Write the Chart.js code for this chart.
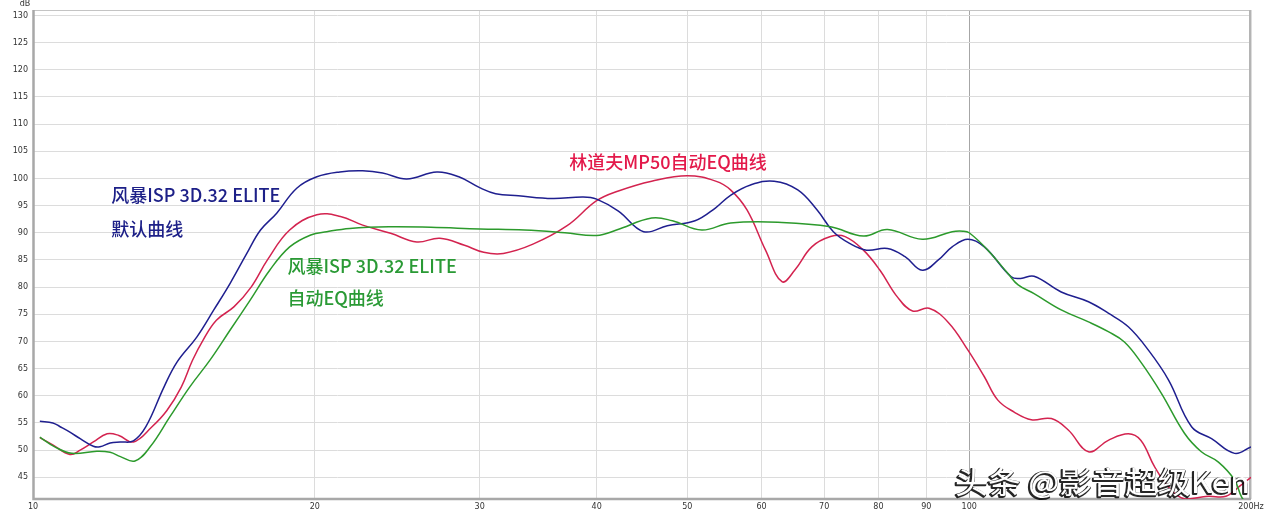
<!DOCTYPE html>
<html><head><meta charset="utf-8">
<script src="https://cdn.jsdelivr.net/npm/chart.js@4/dist/chart.umd.min.js"></script>
<style>html,body{margin:0;padding:0;background:#fff;}#wrap{width:1268px;height:514px;}</style>
</head><body><div id="wrap"><canvas id="c" width="1268" height="514"></canvas></div>
<script>
const xTicks = [10,20,30,40,50,60,70,80,90,100,200];
const yTicks = [45,50,55,60,65,70,75,80,85,90,95,100,105,110,115,120,125,130];

const blueFreq = [10.17,10.5,10.69,10.95,11.23,11.6,11.79,12.09,12.39,12.8,13.2,13.8,14.25,14.96,15.6,16.24,16.92,17.5,18.21,19.13,20.1,21.27,22.5,23.63,25.07,27.0,28.5,30,31.2,33,35.9,38.7,40,42.2,44.9,47.6,50.95,53.6,55.6,58.4,61.9,65.6,68.8,71.6,74.6,77.7,81.8,85.4,89.1,92.7,95.9,99.7,103.8,110.9,113.5,117.3,125.4,134.1,140.8,147.9,155.4,163.3,172.8,181.5,192.1,200];
const blueDb   = [55.3,55.0,54.3,53.3,52.1,50.7,50.6,51.3,51.5,51.7,54.3,61.6,66.2,70.8,75.8,80.7,86.2,90.5,93.6,98.2,100.3,101.2,101.4,101.0,99.9,101.2,100.3,98.3,97.2,96.8,96.3,96.6,96.2,94.0,90.2,91.3,92.2,94.6,96.9,98.8,99.5,97.9,94.2,90.2,88.0,86.8,87.1,85.6,83.1,85.0,87.4,88.8,87.4,81.9,81.6,82.0,79.1,77.3,75.2,72.7,68.4,62.9,54.3,52.1,49.4,50.6];

const redFreq = [10.17,10.51,10.95,11.23,11.6,12.0,12.35,12.8,13.4,13.9,14.4,14.8,15.2,15.7,16.4,17.1,17.8,18.8,20.1,21.3,22.5,24.1,25.7,27.2,28.9,30.3,31.8,34.2,37.2,40,42.2,45.8,50,53.6,55.6,57.9,60.6,63.1,65.1,67.9,71.1,73.7,77.1,80.3,83.8,87,90.6,95,99.7,103.8,107.3,111.7,116.5,122.4,127.6,134.1,140.8,147.9,152.5,157.8,163.3,170,180,188,195,200];
const redDb   = [52.3,50.9,49.2,50.0,51.5,53.0,52.7,51.5,54.3,57.3,61.6,66.5,70.3,73.9,76.4,80.0,85.0,90.5,93.3,93.0,91.4,89.9,88.3,89.0,87.7,86.4,86.2,87.9,91.3,95.9,97.7,99.5,100.5,99.5,97.9,94.2,86.8,81.0,83.1,87.4,89.3,89.3,86.8,83.1,78.2,75.6,76.1,73.5,68.4,63.5,59.2,57.0,55.6,55.8,53.7,49.7,51.8,53.0,51.8,46.9,43.2,41.0,41.5,41.5,43.5,45.0];

const greenFreq = [10.17,10.55,11.0,11.7,12.09,12.4,12.85,13.34,14.0,14.7,15.46,16.24,17.06,17.9,18.8,19.8,20.6,21.8,24.0,26.6,30,33.5,37,40,42,45.8,48.2,51.8,55.6,63.1,71.1,77.1,81.8,89.1,95.9,98.5,100,104.7,110,112.8,117.3,125.4,134.1,140.8,146.5,152.8,160.5,169.8,177,184.6,192.1,195.4,200];
const greenDb   = [52.4,50.6,49.4,49.8,49.6,48.8,48.0,50.6,56.1,61.6,66.6,72.1,77.6,83.1,87.4,89.6,90.2,90.8,91.1,91.0,90.7,90.5,90.0,89.5,90.5,92.7,92.2,90.5,91.8,91.9,91.1,89.4,90.6,88.8,90.2,90.3,90.0,86.8,82.5,80.4,78.8,75.8,73.6,71.8,69.9,66.0,60.4,53.1,49.7,47.8,44.5,41.4,39.0];

const labels = [
  {text:'风暴ISP 3D.32 ELITE', f:12.12, db:96.9, color:'#1d2088'},
  {text:'默认曲线', f:12.12, db:90.7, color:'#1d2088'},
  {text:'风暴ISP 3D.32 ELITE', f:18.7, db:83.9, color:'#2a9a35'},
  {text:'自动EQ曲线', f:18.7, db:78.0, color:'#2a9a35'},
  {text:'林道夫MP50自动EQ曲线', f:37.4, db:103.0, color:'#e3194a'}
];
const watermark = '头条 @影音超级Ken';

const toPts = (fs, ds) => fs.map((f, i) => ({x: f, y: ds[i]}));

const overlay = {
  id: 'overlay',
  beforeDatasetsDraw(chart) {
    const {ctx, chartArea: a} = chart;
    ctx.save();
    ctx.strokeStyle = '#c4c4c4'; ctx.lineWidth = 1;
    ctx.strokeRect(a.left + 0.5, a.top + 0.5, a.right - a.left - 1, a.bottom - a.top - 1);
    ctx.strokeStyle = '#b4b4b4'; ctx.lineWidth = 2;
    ctx.beginPath(); ctx.moveTo(a.right - 1, a.top); ctx.lineTo(a.right - 1, a.bottom); ctx.stroke();
    ctx.strokeStyle = '#a8a8a8'; ctx.lineWidth = 2.5;
    ctx.beginPath(); ctx.moveTo(a.left + 0.5, a.top); ctx.lineTo(a.left + 0.5, a.bottom); ctx.lineTo(a.right, a.bottom); ctx.stroke();
    ctx.restore();
  },
  afterDraw(chart) {
    const {ctx, scales: {x, y}} = chart;
    ctx.save();
    ctx.font = '8px "DejaVu Sans"'; ctx.fillStyle = '#333'; ctx.textAlign = 'center'; ctx.textBaseline = 'middle';
    ctx.fillText('dB', 25, 4);
    ctx.font = '500 18px "Noto Sans CJK SC"'; ctx.textAlign = 'left';
    labels.forEach(l => { ctx.fillStyle = l.color; ctx.fillText(l.text, x.getPixelForValue(l.f), y.getPixelForValue(l.db)); });
    ctx.font = '30px "Noto Sans CJK SC"';
    const w = ctx.measureText(watermark).width;
    const sx = 295 / w;
    ctx.translate(955, 482); ctx.scale(sx, 1);
    ctx.lineJoin = 'round';
    ctx.strokeStyle = 'rgba(0,0,0,0.85)'; ctx.lineWidth = 2.2;
    ctx.strokeText(watermark, -0.8, 0.8);
    ctx.fillStyle = '#ffffff';
    ctx.fillText(watermark, 0, 0);
    ctx.restore();
  }
};

new Chart(document.getElementById('c'), {
  type: 'line',
  data: {
    datasets: [
      {data: toPts(greenFreq, greenDb), borderColor: '#2c9a2c'},
      {data: toPts(blueFreq, blueDb), borderColor: '#1f1f8f'},
      {data: toPts(redFreq, redDb), borderColor: '#d3234f'}
    ].map(d => Object.assign(d, {borderWidth: 1.5, pointRadius: 0, tension: 0.4, fill: false}))
  },
  options: {
    responsive: false, animation: false, devicePixelRatio: 1,
    layout: {padding: {top: 10, right: 17, left: 0, bottom: 0}},
    plugins: {legend: {display: false}, tooltip: {enabled: false}},
    scales: {
      x: {
        type: 'logarithmic', min: 10, max: 200,
        afterBuildTicks: ax => { ax.ticks = xTicks.map(v => ({value: v})); },
        afterFit: ax => { ax.height = 15; },
        border: {display: false},
        grid: {drawTicks: false, color: c => (c.tick && c.tick.value === 100) ? '#a6a6a6' : '#dcdcdc', lineWidth: 1},
        ticks: {padding: 3, maxRotation: 0, autoSkip: false, color: '#333', font: {family: 'DejaVu Sans', size: 8},
                callback: v => v === 200 ? '200Hz' : String(v)}
      },
      y: {
        min: 41, max: 131,
        afterBuildTicks: ax => { ax.ticks = yTicks.map(v => ({value: v})); },
        afterFit: ax => { ax.width = 33; },
        border: {display: false},
        grid: {drawTicks: false, color: '#dcdcdc', lineWidth: 1},
        ticks: {padding: 5, color: '#333', font: {family: 'DejaVu Sans', size: 8}}
      }
    }
  },
  plugins: [overlay]
});
</script></body></html>
